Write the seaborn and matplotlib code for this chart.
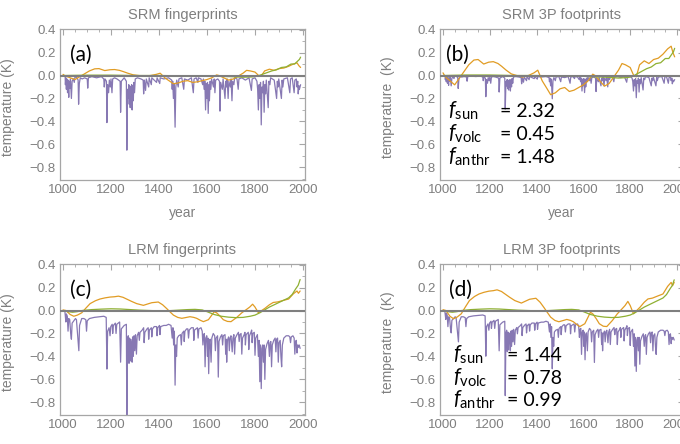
import matplotlib
matplotlib.use("Agg")
import numpy as np
import pandas as pd
import matplotlib.pyplot as plt
from matplotlib.ticker import MultipleLocator
import seaborn as sns

# fingerprints: (year, temperature K)
srm_volc = [
    (1000, 0.0), (1009, -0.01), (1010, -0.08), (1012, -0.02), (1014, -0.12), (1016, -0.03),
    (1019, -0.15), (1021, -0.04), (1024, -0.19), (1026, -0.05), (1029, -0.11), (1031, -0.03),
    (1035, -0.20), (1038, -0.05), (1043, -0.03), (1047, -0.06), (1050, -0.01), (1058, -0.02),
    (1063, -0.04), (1065, -0.25), (1068, -0.07), (1072, -0.02), (1080, -0.03), (1090, -0.02),
    (1101, -0.03), (1103, -0.11), (1106, -0.02), (1120, -0.01), (1140, -0.02), (1160, -0.01),
    (1170, -0.03), (1172, -0.10), (1175, -0.03), (1181, -0.05), (1183, -0.41), (1186, -0.08),
    (1190, -0.15), (1193, -0.04), (1197, -0.10), (1200, -0.03), (1204, -0.15), (1207, -0.03),
    (1215, -0.02), (1225, -0.03), (1238, -0.05), (1240, -0.32), (1243, -0.05), (1255, -0.02),
    (1264, -0.05), (1266, -0.65), (1269, -0.12), (1272, -0.20), (1274, -0.08), (1276, -0.25),
    (1278, -0.09), (1280, -0.28), (1282, -0.10), (1284, -0.22), (1286, -0.08), (1288, -0.30),
    (1290, -0.09), (1293, -0.22), (1295, -0.06), (1298, -0.15), (1301, -0.03), (1310, -0.02),
    (1325, -0.03), (1334, -0.04), (1336, -0.16), (1339, -0.04), (1344, -0.13), (1347, -0.03),
    (1357, -0.10), (1359, -0.02), (1368, -0.08), (1370, -0.02), (1380, -0.04), (1390, -0.06),
    (1392, -0.02), (1403, -0.07), (1405, -0.02), (1420, -0.03), (1440, -0.02), (1453, -0.04),
    (1455, -0.12), (1457, -0.05), (1460, -0.20), (1463, -0.07), (1467, -0.45), (1470, -0.10),
    (1474, -0.04), (1480, -0.10), (1483, -0.03), (1495, -0.02), (1503, -0.12), (1506, -0.03),
    (1520, -0.04), (1535, -0.02), (1543, -0.15), (1546, -0.03), (1555, -0.02), (1562, -0.06),
    (1564, -0.02), (1575, -0.03), (1582, -0.08), (1585, -0.03), (1588, -0.12), (1591, -0.05),
    (1594, -0.30), (1597, -0.07), (1599, -0.20), (1602, -0.06), (1605, -0.33), (1608, -0.08),
    (1610, -0.22), (1613, -0.05), (1616, -0.12), (1619, -0.03), (1627, -0.10), (1630, -0.03),
    (1633, -0.15), (1636, -0.04), (1645, -0.03), (1652, -0.05), (1654, -0.31), (1657, -0.06),
    (1664, -0.12), (1667, -0.03), (1675, -0.20), (1678, -0.05), (1681, -0.10), (1684, -0.03),
    (1688, -0.20), (1691, -0.05), (1697, -0.10), (1700, -0.03), (1704, -0.22), (1707, -0.05),
    (1712, -0.08), (1715, -0.02), (1725, -0.03), (1730, -0.12), (1733, -0.03), (1745, -0.02),
    (1760, -0.04), (1775, -0.02), (1785, -0.13), (1788, -0.03), (1800, -0.02), (1808, -0.05),
    (1811, -0.12), (1814, -0.30), (1817, -0.08), (1820, -0.20), (1823, -0.06), (1826, -0.43),
    (1829, -0.10), (1832, -0.15), (1835, -0.05), (1838, -0.32), (1841, -0.08), (1844, -0.16),
    (1847, -0.04), (1855, -0.28), (1858, -0.05), (1862, -0.08), (1865, -0.02), (1880, -0.04),
    (1890, -0.20), (1893, -0.05), (1896, -0.10), (1899, -0.03), (1910, -0.20), (1913, -0.04),
    (1916, -0.10), (1920, -0.03), (1935, -0.02), (1945, -0.15), (1948, -0.03), (1955, -0.02),
    (1963, -0.15), (1966, -0.04), (1972, -0.03), (1975, -0.10), (1978, -0.05), (1980, -0.16),
    (1983, -0.09), (1985, -0.12), (1990, -0.08),
]
srm_sun = [
    (1000, 0.01), (1010, -0.005), (1030, -0.02), (1050, -0.035), (1070, -0.01), (1090, 0.015),
    (1110, 0.04), (1132, 0.058), (1150, 0.06), (1174, 0.043), (1195, 0.05), (1215, 0.052),
    (1235, 0.045), (1250, 0.035), (1270, 0.02), (1292, 0.006), (1315, 0.0), (1340, -0.006),
    (1365, 0.0), (1389, 0.01), (1405, 0.02), (1424, -0.02), (1445, -0.05), (1460, -0.072),
    (1480, -0.065), (1500, -0.05), (1520, -0.045), (1540, -0.06), (1560, -0.055), (1580, -0.045),
    (1600, -0.035), (1620, -0.02), (1640, 0.005), (1650, 0.0), (1670, -0.02), (1690, -0.04),
    (1710, -0.03), (1730, -0.005), (1750, 0.02), (1765, 0.045), (1780, 0.04), (1800, 0.03),
    (1815, 0.0), (1826, -0.005), (1840, 0.04), (1860, 0.055), (1880, 0.045), (1900, 0.06),
    (1920, 0.065), (1940, 0.08), (1960, 0.10), (1975, 0.11), (1983, 0.085), (1990, 0.07),
]
srm_anthr = [
    (1000, 0.0), (1100, 0.003), (1200, 0.003), (1300, 0.0), (1400, 0.0), (1500, -0.003),
    (1600, -0.005), (1700, -0.01), (1750, -0.015), (1790, -0.012), (1810, -0.005), (1830, 0.01),
    (1850, 0.025), (1870, 0.04), (1890, 0.05), (1910, 0.07), (1930, 0.075), (1950, 0.10),
    (1965, 0.10), (1975, 0.12), (1985, 0.14), (1990, 0.16),
]

lrm_volc = [
    (1000, 0.0), (1008, -0.01), (1012, -0.10), (1014, -0.03), (1018, -0.05), (1021, -0.18),
    (1024, -0.07), (1028, -0.08), (1032, -0.20), (1035, -0.25), (1038, -0.11), (1045, -0.09),
    (1052, -0.07), (1056, -0.08), (1066, -0.35), (1069, -0.13), (1078, -0.07), (1087, -0.07),
    (1095, -0.08), (1098, -0.18), (1101, -0.09), (1110, -0.07), (1130, -0.06), (1150, -0.055),
    (1170, -0.05), (1180, -0.06), (1183, -0.51), (1186, -0.18), (1192, -0.15), (1196, -0.22),
    (1199, -0.14), (1205, -0.12), (1207, -0.20), (1210, -0.13), (1218, -0.11), (1221, -0.20),
    (1224, -0.12), (1236, -0.10), (1240, -0.45), (1243, -0.16), (1255, -0.13), (1264, -0.12),
    (1266, -0.95), (1269, -0.25), (1272, -0.22), (1275, -0.46), (1277, -0.24), (1280, -0.44),
    (1282, -0.25), (1285, -0.30), (1288, -0.45), (1290, -0.23), (1293, -0.40), (1296, -0.22),
    (1299, -0.35), (1302, -0.21), (1306, -0.38), (1309, -0.22), (1315, -0.19), (1318, -0.26),
    (1321, -0.19), (1330, -0.17), (1336, -0.15), (1338, -0.28), (1341, -0.19), (1350, -0.16),
    (1355, -0.15), (1357, -0.25), (1360, -0.17), (1368, -0.15), (1370, -0.23), (1373, -0.16),
    (1380, -0.14), (1390, -0.14), (1392, -0.22), (1395, -0.15), (1402, -0.13), (1404, -0.21),
    (1407, -0.14), (1420, -0.13), (1430, -0.13), (1440, -0.12), (1450, -0.13), (1455, -0.24),
    (1458, -0.15), (1461, -0.30), (1464, -0.18), (1467, -0.65), (1470, -0.30), (1473, -0.40),
    (1476, -0.24), (1482, -0.22), (1490, -0.21), (1493, -0.30), (1496, -0.20), (1503, -0.18),
    (1505, -0.27), (1508, -0.18), (1515, -0.16), (1520, -0.16), (1523, -0.24), (1526, -0.17),
    (1535, -0.15), (1543, -0.15), (1545, -0.26), (1548, -0.17), (1560, -0.15), (1563, -0.24),
    (1566, -0.16), (1575, -0.15), (1580, -0.18), (1583, -0.30), (1586, -0.21), (1589, -0.20),
    (1592, -0.49), (1595, -0.24), (1599, -0.22), (1602, -0.40), (1604, -0.24), (1607, -0.55),
    (1610, -0.27), (1613, -0.25), (1617, -0.45), (1620, -0.24), (1626, -0.20), (1632, -0.22),
    (1635, -0.35), (1638, -0.24), (1644, -0.22), (1647, -0.58), (1650, -0.27), (1656, -0.23),
    (1662, -0.21), (1665, -0.30), (1668, -0.22), (1675, -0.21), (1678, -0.38), (1680, -0.25),
    (1682, -0.45), (1685, -0.26), (1690, -0.23), (1693, -0.35), (1696, -0.24), (1700, -0.22),
    (1705, -0.36), (1708, -0.24), (1712, -0.21), (1715, -0.38), (1718, -0.24), (1725, -0.21),
    (1731, -0.19), (1734, -0.27), (1737, -0.21), (1742, -0.20), (1745, -0.38), (1748, -0.24),
    (1755, -0.21), (1758, -0.19), (1760, -0.30), (1763, -0.21), (1772, -0.19), (1774, -0.34),
    (1777, -0.22), (1783, -0.19), (1786, -0.17), (1788, -0.28), (1791, -0.20), (1797, -0.19),
    (1800, -0.39), (1803, -0.24), (1810, -0.21), (1814, -0.40), (1817, -0.26), (1820, -0.62),
    (1823, -0.30), (1826, -0.68), (1829, -0.33), (1832, -0.30), (1835, -0.45), (1838, -0.30),
    (1841, -0.60), (1844, -0.34), (1850, -0.29), (1856, -0.26), (1860, -0.40), (1863, -0.28),
    (1866, -0.27), (1869, -0.49), (1872, -0.30), (1878, -0.26), (1884, -0.24), (1887, -0.36),
    (1890, -0.25), (1894, -0.24), (1897, -0.45), (1900, -0.28), (1905, -0.26), (1908, -0.40),
    (1911, -0.49), (1914, -0.30), (1920, -0.24), (1930, -0.22), (1940, -0.22), (1945, -0.23),
    (1948, -0.28), (1951, -0.23), (1958, -0.22), (1963, -0.24), (1966, -0.38), (1969, -0.27),
    (1972, -0.26), (1975, -0.37), (1978, -0.30), (1981, -0.32), (1984, -0.30), (1988, -0.33),
]
lrm_sun = [
    (1000, 0.005), (1012, 0.0), (1030, -0.035), (1045, -0.05), (1060, -0.04), (1078, -0.02),
    (1095, 0.02), (1113, 0.06), (1135, 0.085), (1154, 0.10), (1175, 0.11), (1196, 0.117),
    (1215, 0.12), (1231, 0.125), (1250, 0.115), (1265, 0.10), (1285, 0.08), (1307, 0.06),
    (1335, 0.045), (1350, 0.055), (1370, 0.068), (1397, 0.074), (1415, 0.05), (1432, 0.017),
    (1445, -0.01), (1460, -0.04), (1478, -0.06), (1495, -0.068), (1515, -0.06), (1529, -0.054),
    (1545, -0.06), (1557, -0.068), (1572, -0.085), (1585, -0.097), (1606, -0.08), (1620, -0.04),
    (1630, -0.011), (1640, -0.02), (1655, -0.05), (1668, -0.08), (1685, -0.095), (1700, -0.097),
    (1724, -0.06), (1745, -0.02), (1765, 0.01), (1778, 0.03), (1790, 0.055), (1800, 0.03),
    (1814, -0.02), (1828, 0.0), (1842, 0.02), (1860, 0.05), (1876, 0.07), (1895, 0.075),
    (1918, 0.088), (1940, 0.10), (1960, 0.146), (1975, 0.17), (1981, 0.15), (1988, 0.17),
]
lrm_anthr = [
    (1000, 0.0), (1020, -0.01), (1040, -0.015), (1060, -0.01), (1080, 0.0), (1120, 0.008),
    (1160, 0.012), (1200, 0.015), (1240, 0.013), (1280, 0.008), (1320, 0.003), (1360, 0.0),
    (1400, -0.003), (1440, -0.002), (1480, 0.003), (1520, 0.008), (1550, 0.01), (1580, 0.005),
    (1600, -0.01), (1630, -0.035), (1660, -0.05), (1690, -0.058), (1720, -0.062), (1750, -0.06),
    (1780, -0.05), (1800, -0.04), (1820, -0.02), (1840, 0.005), (1860, 0.03), (1880, 0.05),
    (1900, 0.07), (1920, 0.09), (1940, 0.11), (1955, 0.14), (1970, 0.19), (1980, 0.22),
    (1988, 0.27),
]

# fitted scaling factors shown in panels (b) and (d)
srm_f = {"sun": 2.32, "volc": 0.45, "anthr": 1.48}
lrm_f = {"sun": 1.44, "volc": 0.78, "anthr": 0.99}

colors = {"volc": "#8778B3", "sun": "#E19C24", "anthr": "#8FB032"}

sns.set_style("white")
plt.rcParams["font.family"] = ["Liberation Sans", "DejaVu Sans"]
plt.rcParams["mathtext.fontset"] = "custom"
plt.rcParams["mathtext.it"] = "Lato:italic"
plt.rcParams["mathtext.rm"] = "Lato"

gray = "#7f7f7f"
frame = "#a6a6a6"

fig = plt.figure(figsize=(6.8, 4.44), dpi=100)


def rect(l, t, w, h):
    return [l / 680, 1 - (t + h) / 444, w / 680, h / 444]


def panel(pos, series, factors, title, letter, ylab, xlim, show_year):
    ax = fig.add_axes(pos)
    for key in ["volc", "sun", "anthr"]:
        df = pd.DataFrame(series[key], columns=["year", "temp"])
        f = factors[key] if factors else 1.0
        df["temp"] = df["temp"] * f
        sns.lineplot(data=df, x="year", y="temp", ax=ax, color=colors[key],
                     lw=0.9, estimator=None, sort=False, zorder=2)
    ax.axhline(0, color=gray, lw=1.5, zorder=3)
    ax.set_xlim(*xlim)
    ax.set_ylim(-0.91, 0.405)
    ax.xaxis.set_major_locator(MultipleLocator(200))
    ax.xaxis.set_minor_locator(MultipleLocator(50))
    ax.yaxis.set_major_locator(MultipleLocator(0.2))
    ax.yaxis.set_minor_locator(MultipleLocator(0.1))
    ax.yaxis.set_major_formatter(plt.FuncFormatter(lambda v, p: f"{v:.1f}".replace("-", "\u2212")))
    ax.tick_params(which="both", direction="in", top=True, right=True, color=frame,
                   labelcolor=gray, labelsize=9.5, pad=3)
    ax.tick_params(which="major", length=4, width=0.8)
    ax.tick_params(which="minor", length=2, width=0.6)
    for s in ax.spines.values():
        s.set_color(frame)
        s.set_linewidth(0.9)
    ax.set_title(title, color=gray, fontsize=10.5, pad=7)
    ax.set_ylabel(ylab, color=gray, fontsize=10)
    ax.yaxis.set_label_coords(-0.185, 0.48)
    ax.set_xlabel("year" if show_year else "", color=gray, fontsize=10, labelpad=7)
    ax.text(letter[1], 0.788, letter[0], transform=ax.transAxes, fontsize=15,
            family="Lato", color="black", va="baseline")
    return ax


srm = {"volc": srm_volc, "sun": srm_sun, "anthr": srm_anthr}
lrm = {"volc": lrm_volc, "sun": lrm_sun, "anthr": lrm_anthr}

xl_left = (987.5, 2008.3)
xl_right = (987.2, 2029.9)

panel(rect(60, 29, 245, 151), srm, None, "SRM fingerprints", ("(a)", 0.041),
      "temperature (K)", xl_left, True)
axb = panel(rect(440, 29, 244, 151), srm, srm_f, "SRM 3P footprints", ("(b)", 0.025),
            "temperature  (K)", xl_right, True)
panel(rect(60, 264, 245, 151), lrm, None, "LRM fingerprints", ("(c)", 0.041),
      "temperature (K)", xl_left, False)
axd = panel(rect(440, 264, 244, 151), lrm, lrm_f, "LRM 3P footprints", ("(d)", 0.037),
            "temperature  (K)", xl_right, False)


def factor_text(ax, factors, fx, ex, ys):
    for key, y in zip(["sun", "volc", "anthr"], ys):
        ax.text(fx, y, r"$f_{\mathrm{" + key + "}}$", transform=ax.transAxes,
                fontsize=15, color="black", va="baseline")
        ax.text(ex, y, f"= {factors[key]:.2f}", transform=ax.transAxes, family="Lato",
                fontsize=14, color="black", va="baseline")


factor_text(axb, srm_f, 0.033, 0.246, [0.417, 0.265, 0.113])
factor_text(axd, lrm_f, 0.053, 0.275, [0.358, 0.205, 0.06])

fig.savefig("out.png", dpi=100)
